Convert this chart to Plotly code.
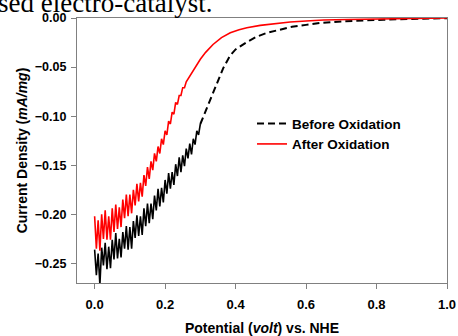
import plotly.graph_objects as go

# ---------------- data ----------------
before_x = [0.000, 0.005, 0.010, 0.015, 0.020, 0.025, 0.030, 0.035, 0.040, 0.045,
            0.050, 0.055, 0.060, 0.065, 0.070, 0.075, 0.080, 0.085, 0.090, 0.095,
            0.100, 0.105, 0.110, 0.115, 0.120, 0.125, 0.130, 0.135, 0.140, 0.145,
            0.150, 0.155, 0.160, 0.165, 0.170, 0.175, 0.180, 0.185, 0.190, 0.195,
            0.200, 0.205, 0.210, 0.215, 0.220, 0.225, 0.230, 0.235, 0.240, 0.245,
            0.250, 0.255, 0.260, 0.265, 0.270, 0.275, 0.280, 0.285, 0.290, 0.295,
            0.300, 0.310, 0.320, 0.336, 0.350, 0.365, 0.385, 0.400, 0.432, 0.460,
            0.490, 0.526, 0.560, 0.600, 0.640, 0.700, 0.760, 0.820, 0.900, 0.960, 1.000]
before_y = [-0.236, -0.262, -0.240, -0.272, -0.234, -0.252, -0.229, -0.256, -0.233, -0.255,
            -0.226, -0.246, -0.219, -0.245, -0.225, -0.244, -0.218, -0.235, -0.212, -0.236,
            -0.213, -0.235, -0.207, -0.224, -0.201, -0.222, -0.202, -0.221, -0.194, -0.212,
            -0.189, -0.209, -0.189, -0.205, -0.181, -0.196, -0.174, -0.192, -0.173, -0.188,
            -0.165, -0.179, -0.158, -0.174, -0.157, -0.170, -0.149, -0.161, -0.142, -0.157,
            -0.140, -0.151, -0.133, -0.143, -0.128, -0.139, -0.123, -0.129, -0.115, -0.119,
            -0.108, -0.099, -0.090, -0.075, -0.063, -0.051, -0.038, -0.032, -0.0245, -0.019,
            -0.015, -0.012, -0.009, -0.007, -0.005, -0.0035, -0.0025, -0.0017, -0.001, -0.0005, -0.0002]

after_x = [0.000, 0.005, 0.010, 0.015, 0.020, 0.025, 0.030, 0.035, 0.040, 0.045,
           0.050, 0.055, 0.060, 0.065, 0.070, 0.075, 0.080, 0.085, 0.090, 0.095,
           0.100, 0.105, 0.110, 0.115, 0.120, 0.125, 0.130, 0.135, 0.140, 0.145,
           0.150, 0.155, 0.160, 0.165, 0.170, 0.175, 0.180, 0.185, 0.190, 0.195,
           0.200, 0.205, 0.210, 0.215, 0.220, 0.225, 0.230, 0.235, 0.240, 0.245,
           0.250, 0.255, 0.260, 0.270, 0.280, 0.290, 0.300, 0.315, 0.336, 0.360,
           0.385, 0.410, 0.432, 0.470, 0.510, 0.555, 0.600, 0.650, 0.720, 0.800, 0.900, 1.000]
after_y = [-0.202, -0.235, -0.206, -0.237, -0.200, -0.225, -0.196, -0.226, -0.202, -0.226,
           -0.194, -0.218, -0.190, -0.215, -0.193, -0.213, -0.185, -0.204, -0.180, -0.202,
           -0.180, -0.199, -0.175, -0.191, -0.169, -0.187, -0.168, -0.182, -0.160, -0.171,
           -0.152, -0.164, -0.146, -0.155, -0.138, -0.146, -0.131, -0.138, -0.123, -0.129,
           -0.115, -0.119, -0.105, -0.108, -0.096, -0.098, -0.086, -0.088, -0.079, -0.079,
           -0.071, -0.071, -0.065, -0.059, -0.053, -0.047, -0.042, -0.035, -0.027, -0.020,
           -0.015, -0.012, -0.010, -0.0075, -0.0055, -0.004, -0.003, -0.002, -0.0015, -0.001, -0.0005, 0.000]

series_names = ["Before Oxidation", "After Oxidation"]
x_ticks = [0.0, 0.2, 0.4, 0.6, 0.8, 1.0]
y_ticks = [0.00, -0.05, -0.10, -0.15, -0.20, -0.25]
noisy_limit = 0.30  # the measured noise ends near here for "Before"

# ---------------- figure ----------------
fig = go.Figure()

n_split = max(i for i, v in enumerate(before_x) if v <= noisy_limit)
# noisy part of "Before" (dense noise reads as a solid band)
fig.add_trace(go.Scatter(
    x=before_x[:n_split + 1], y=before_y[:n_split + 1], mode="lines",
    line=dict(color="black", width=1.6), showlegend=False,
    legendgroup="before", hoverinfo="skip"))
fig.add_trace(go.Scatter(
    x=before_x[n_split:], y=before_y[n_split:], mode="lines",
    name=series_names[0], legendgroup="before",
    line=dict(color="black", width=2, dash="7px,4px")))
fig.add_trace(go.Scatter(
    x=after_x, y=after_y, mode="lines", name=series_names[1],
    line=dict(color="#ff0000", width=1.6)))

axis_common = dict(
    showline=True, linecolor="#808080", linewidth=1.3, mirror=True,
    ticks="outside", ticklen=5, tickcolor="#808080", tickwidth=1.3,
    showgrid=False, zeroline=False, automargin=False,
)

fig.update_layout(
    template="none",
    width=458, height=336,
    margin=dict(l=77, r=11, t=18, b=53),
    paper_bgcolor="white", plot_bgcolor="white",
    font=dict(family="Arial, Liberation Sans, sans-serif", color="black"),
    xaxis=dict(
        range=[-0.05, 1.0], tickvals=x_ticks, tickformat=".1f",
        tickfont=dict(size=13, weight="bold"), ticklabelstandoff=4,
        title=dict(text="<b>Potential (<i>volt</i>) vs. NHE</b>",
                   font=dict(size=14), standoff=21),
        **axis_common),
    yaxis=dict(
        range=[-0.27, 0.0], tickvals=y_ticks, tickformat=".2f",
        tickfont=dict(size=12.5, weight="bold"), ticklabelstandoff=2,
        title=dict(text="<b>Current Density (<i>mA/mg</i>)</b>",
                   font=dict(size=14), standoff=3),
        **axis_common),
    legend=dict(
        x=0.473, y=0.66, xanchor="left", yanchor="top",
        bgcolor="rgba(0,0,0,0)", borderwidth=0,
        font=dict(size=13.5, weight="bold"), tracegroupgap=0,
        itemwidth=30),
    showlegend=True,
    annotations=[dict(
        text="sed electro-catalyst.", xref="paper", yref="paper",
        x=-0.219, y=1.057, xanchor="left", yanchor="middle",
        showarrow=False,
        font=dict(family="Liberation Serif, Times New Roman, serif", size=27, color="black"))],
)

fig.write_html("out.html", config={"displayModeBar": False},
               post_script="document.body.style.margin='0';")
